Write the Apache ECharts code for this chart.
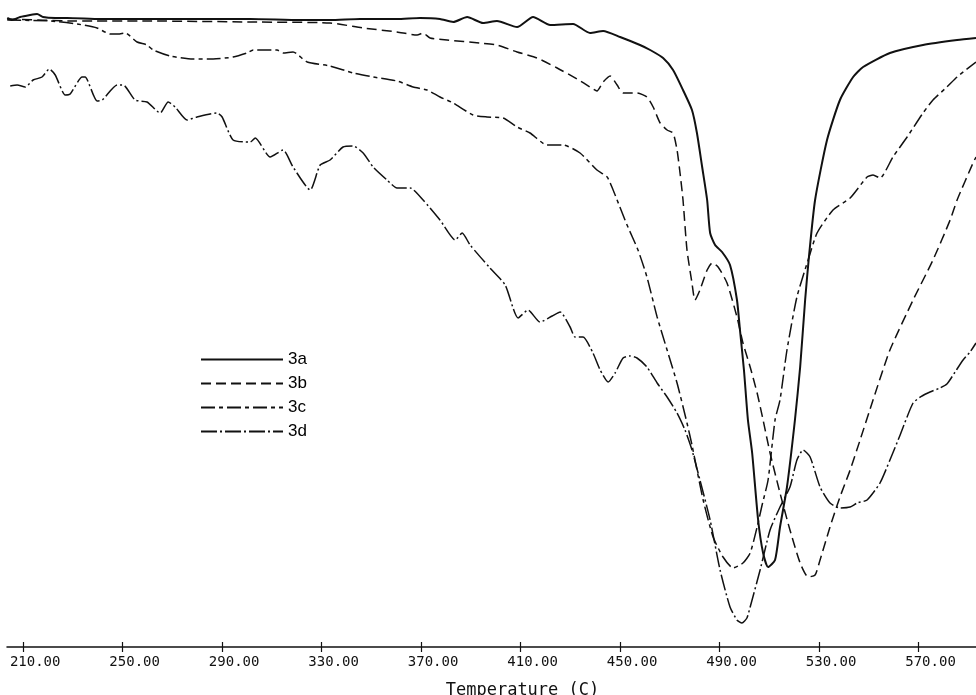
<!DOCTYPE html>
<html>
<head>
<meta charset="utf-8">
<title>DTG curves 3a-3d</title>
<script src="https://cdn.jsdelivr.net/npm/echarts@6/dist/echarts.min.js"></script>
<style>
  html, body { margin: 0; padding: 0; background: #fff; }
  #chart { width: 976px; height: 695px; }
</style>
</head>
<body>
<div id="chart"></div>
<script>
// tick positions on the temperature axis
const tempTicks = [210, 250, 290, 330, 370, 410, 450, 490, 530, 570]
const seriesNames = ['3a', '3b', '3c', '3d']

// [temperature (C), signal], signal in arbitrary units
const curve3a = [
  [203.6, 62.9], [205.6, 62.7], [208.8, 63.0], [212.8, 63.2], [215.6, 63.3], [218.0, 63.0],
  [222.9, 62.9], [227.7, 62.9], [241.0, 62.8], [261.1, 62.8], [281.2, 62.8], [301.3, 62.8],
  [321.4, 62.7], [333.4, 62.7], [345.5, 62.8], [360.3, 62.8], [369.6, 62.9], [377.6, 62.8],
  [382.9, 62.5], [388.5, 63.0], [394.9, 62.4], [400.5, 62.6], [408.6, 62.0], [415.0, 63.0],
  [421.9, 62.2], [431.1, 62.3], [437.9, 61.4], [443.2, 61.6], [450.0, 61.0], [458.0, 60.2],
  [462.1, 59.7], [467.3, 58.9], [471.3, 57.7], [475.3, 55.7], [478.9, 53.7], [480.9, 51.4],
  [483.0, 48.0], [485.0, 44.7], [486.2, 41.4], [488.2, 40.2], [491.0, 39.5], [494.2, 38.2],
  [497.0, 34.7], [498.2, 31.7], [499.8, 27.7], [501.4, 22.7], [503.1, 19.4], [505.5, 12.7],
  [507.5, 9.4], [509.5, 8.0], [512.3, 8.7], [514.3, 12.0], [517.1, 16.0], [520.3, 22.7],
  [522.4, 28.0], [524.4, 34.7], [526.0, 39.2], [528.4, 44.7], [533.2, 50.7], [538.4, 54.7],
  [543.7, 57.0], [547.7, 58.0], [558.5, 59.4], [571.8, 60.2], [585.5, 60.7], [593.1, 60.9]
]

const curve3b = [
  [203.6, 62.8], [230.9, 62.6], [261.1, 62.6], [301.3, 62.5], [333.4, 62.4], [346.7, 61.9],
  [360.3, 61.5], [368.4, 61.2], [370.8, 61.4], [373.6, 60.9], [380.4, 60.7], [393.7, 60.4],
  [400.5, 60.2], [408.6, 59.5], [416.6, 58.9], [424.7, 57.9], [432.7, 56.8], [437.9, 56.0],
  [440.7, 55.6], [443.2, 56.5], [446.0, 57.1], [448.8, 56.2], [451.2, 55.4], [456.8, 55.4],
  [460.8, 55.0], [463.3, 54.0], [466.1, 52.4], [468.9, 51.7], [471.3, 51.4], [472.9, 49.7],
  [474.1, 47.4], [475.3, 44.7], [476.9, 39.7], [478.9, 36.4], [480.1, 34.7], [482.1, 35.7],
  [485.0, 37.7], [487.0, 38.4], [489.4, 38.0], [493.0, 36.4], [497.0, 33.0], [499.4, 30.4],
  [502.3, 28.0], [505.1, 25.4], [507.5, 22.7], [510.3, 19.4], [514.3, 15.4], [518.3, 11.7],
  [522.4, 8.4], [525.6, 7.0], [528.4, 7.2], [530.4, 8.7], [534.4, 12.0], [538.4, 15.0],
  [542.5, 17.7], [546.5, 20.7], [551.7, 24.7], [558.5, 29.7], [567.8, 34.7], [575.8, 38.7],
  [582.7, 42.7], [585.5, 44.7], [591.9, 48.4], [593.1, 49.0]
]

const curve3c = [
  [203.6, 62.7], [220.9, 62.6], [231.7, 62.3], [239.7, 61.9], [245.0, 61.3], [248.2, 61.3],
  [251.0, 61.4], [255.8, 60.5], [259.8, 60.2], [262.3, 59.7], [269.1, 59.1], [278.3, 58.8],
  [286.4, 58.8], [294.4, 59.0], [300.0, 59.4], [302.5, 59.7], [312.1, 59.7], [314.5, 59.4],
  [318.5, 59.5], [324.2, 58.5], [333.4, 58.1], [342.7, 57.4], [350.7, 57.0], [360.3, 56.6],
  [366.8, 56.0], [372.4, 55.7], [377.6, 55.0], [382.9, 54.4], [390.9, 53.2], [396.5, 53.0],
  [403.0, 52.9], [408.6, 52.0], [413.8, 51.4], [420.6, 50.2], [427.1, 50.2], [433.9, 49.4],
  [440.7, 47.7], [444.8, 47.0], [447.2, 45.7], [448.8, 44.7], [452.8, 42.2], [457.2, 39.7],
  [460.8, 37.0], [464.9, 33.0], [468.9, 29.7], [472.9, 26.4], [476.9, 22.4], [478.9, 20.2],
  [483.4, 14.7], [487.4, 11.0], [491.4, 9.0], [495.4, 7.9], [499.4, 8.4], [502.3, 9.4],
  [505.1, 12.0], [507.1, 14.2], [509.5, 16.7], [512.3, 22.7], [514.3, 24.7], [517.1, 29.7],
  [521.1, 35.0], [525.6, 38.7], [529.2, 41.4], [535.6, 43.7], [542.5, 44.9], [549.3, 47.0],
  [551.7, 47.2], [554.5, 46.9], [559.7, 49.0], [565.4, 51.0], [571.8, 53.4], [575.8, 54.7],
  [581.4, 56.0], [585.5, 57.0], [593.1, 58.5]
]

const curve3d = [
  [204.8, 56.1], [207.6, 56.2], [210.8, 56.0], [214.0, 56.7], [217.6, 57.0], [220.5, 57.8],
  [222.9, 57.2], [226.9, 55.2], [228.9, 55.3], [233.7, 57.0], [234.9, 57.0], [239.7, 54.6],
  [241.8, 54.7], [247.8, 56.2], [250.2, 56.2], [255.0, 54.7], [259.8, 54.5], [265.1, 53.4],
  [268.3, 54.5], [271.1, 54.0], [275.9, 52.7], [279.9, 53.0], [288.0, 53.4], [290.0, 53.0],
  [294.4, 50.7], [301.3, 50.5], [303.3, 50.9], [309.3, 49.0], [314.5, 49.7], [318.5, 48.0],
  [325.4, 45.7], [329.4, 48.2], [333.4, 48.7], [338.6, 50.0], [342.7, 50.1], [346.7, 49.4],
  [350.7, 48.0], [356.3, 46.7], [360.3, 45.9], [365.6, 45.9], [370.8, 44.7], [377.6, 42.7],
  [383.7, 40.7], [386.5, 41.4], [389.7, 40.2], [397.7, 37.9], [403.8, 36.2], [409.0, 32.9],
  [413.0, 33.7], [417.8, 32.5], [422.7, 33.1], [425.9, 33.5], [429.9, 32.0], [431.9, 31.0],
  [435.1, 31.0], [439.1, 29.4], [442.0, 27.7], [445.2, 26.5], [448.0, 27.4], [451.2, 28.9],
  [454.0, 29.1], [456.8, 28.9], [460.8, 28.0], [464.9, 26.4], [468.9, 25.0], [472.9, 23.4],
  [476.1, 21.7], [478.9, 19.7], [482.1, 16.7], [486.2, 12.7], [490.2, 7.7], [494.2, 4.0],
  [497.0, 2.7], [499.0, 2.4], [501.0, 2.9], [502.3, 4.0], [506.3, 7.7], [510.3, 11.7],
  [514.3, 14.0], [518.3, 16.0], [521.1, 18.7], [523.6, 19.7], [526.4, 19.0], [530.4, 16.0],
  [534.4, 14.4], [538.4, 13.9], [542.5, 14.0], [545.3, 14.4], [549.3, 14.7], [554.5, 16.4],
  [558.5, 18.7], [562.6, 21.2], [567.8, 24.4], [571.4, 25.1], [574.6, 25.5], [578.6, 25.9],
  [581.4, 26.3], [584.7, 27.5], [587.9, 28.7], [590.7, 29.5], [593.1, 30.4]
]

const curves = [curve3a, curve3b, curve3c, curve3d]
const dashes = ['solid', [10, 5], [14, 4, 4, 4], [16, 3, 2, 3]]
const widths = [2, 1.5, 1.5, 1.5]

const chart = echarts.init(document.getElementById('chart'))

const tickFormat = v => v.toFixed(2)

const option = {
  animation: false,
  backgroundColor: '#fff',
  grid: { left: 7, right: 0, top: 0, bottom: 48, outerBoundsMode: 'none' },
  legend: {
    orient: 'vertical',
    left: 195,
    top: 346,
    itemWidth: 82,
    itemHeight: 14,
    itemGap: 7,
    data: seriesNames,
    itemStyle: { opacity: 0 },
    textStyle: { fontFamily: 'Liberation Sans', fontSize: 17, color: '#000' }
  },
  xAxis: [
    {
      type: 'value',
      min: 203.5,
      max: 593.1,
      position: 'bottom',
      name: 'Temperature (C)',
      nameLocation: 'middle',
      nameGap: 35,
      nameTextStyle: {
        fontFamily: 'DejaVu Sans Mono',
        fontSize: 17,
        color: '#111',
        padding: [0, 0, 0, 62]
      },
      splitLine: { show: false },
      axisLine: { lineStyle: { color: '#111', width: 1.5 } },
      axisTick: {
        customValues: tempTicks,
        length: 5,
        lineStyle: { color: '#111', width: 1.2 }
      },
      axisLabel: {
        customValues: tempTicks,
        formatter: tickFormat,
        margin: 8,
        padding: [0, 0, 0, 24],
        fontFamily: 'DejaVu Sans Mono',
        fontSize: 14,
        color: '#111'
      }
    },
    {
      type: 'value',
      min: 203.5,
      max: 593.1,
      position: 'bottom',
      splitLine: { show: false },
      axisLine: { show: false },
      axisLabel: { show: false },
      axisTick: {
        customValues: tempTicks,
        inside: true,
        length: 5,
        lineStyle: { color: '#111', width: 1.2 }
      }
    }
  ],
  yAxis: {
    type: 'value',
    min: 0,
    max: 64.7,
    show: false
  },
  series: seriesNames.map((name, i) => ({
    name: name,
    type: 'line',
    data: curves[i],
    symbol: 'none',
    smooth: 0.2,
    lineStyle: { color: '#111', width: widths[i], type: dashes[i] },
    itemStyle: { color: '#111' }
  }))
}

chart.setOption(option)
</script>
</body>
</html>
